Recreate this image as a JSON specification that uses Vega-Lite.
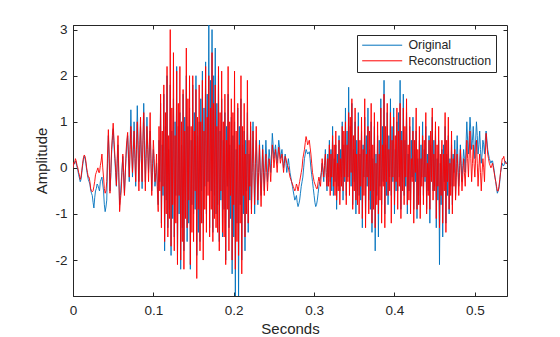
{
"$schema": "https://vega.github.io/schema/vega-lite/v6.json",
"width": 434, "height": 271,
"autosize": {"type": "none"},
"padding": {"left": 73, "top": 25, "right": 53, "bottom": 41},
"background": "white",
"config": {"view": {"stroke": "#262626", "strokeWidth": 1}, "font": "Liberation Sans"},
"data": {"values": [
{"t":0,"o":0,"r":0},{"t":0.001,"o":0.1,"r":0.12},{"t":0.002,"o":0.08,"r":0.1},{"t":0.003,"o":0.15,"r":0.2},{"t":0.004,"o":0.12,"r":0.15},
{"t":0.005,"o":0.02,"r":0.05},{"t":0.006,"o":-0.05,"r":0},{"t":0.007,"o":-0.15,"r":-0.1},{"t":0.008,"o":-0.22,"r":-0.15},{"t":0.009,"o":-0.3,"r":-0.25},
{"t":0.01,"o":-0.25,"r":-0.2},{"t":0.011,"o":-0.1,"r":-0.05},{"t":0.012,"o":0.05,"r":0.1},{"t":0.013,"o":0.18,"r":0.22},{"t":0.014,"o":0.25,"r":0.28},
{"t":0.015,"o":0.2,"r":0.25},{"t":0.016,"o":0.1,"r":0.15},{"t":0.017,"o":-0.05,"r":0},{"t":0.018,"o":-0.15,"r":-0.1},{"t":0.019,"o":-0.25,"r":-0.2},
{"t":0.02,"o":-0.3,"r":-0.2},{"t":0.021,"o":-0.35,"r":-0.3},{"t":0.022,"o":-0.48,"r":-0.45},{"t":0.023,"o":-0.55,"r":-0.5},{"t":0.024,"o":-0.6,"r":-0.52},
{"t":0.025,"o":-0.75,"r":-0.5},{"t":0.026,"o":-0.87,"r":-0.4},{"t":0.027,"o":-0.65,"r":-0.3},{"t":0.028,"o":-0.5,"r":-0.15},{"t":0.029,"o":-0.45,"r":-0.1},
{"t":0.03,"o":-0.35,"r":-0.05},{"t":0.031,"o":-0.38,"r":0},{"t":0.032,"o":-0.45,"r":-0.1},{"t":0.033,"o":-0.5,"r":-0.1},{"t":0.034,"o":-0.3,"r":0.05},
{"t":0.035,"o":-0.25,"r":0.15},{"t":0.036,"o":-0.2,"r":0.3},{"t":0.037,"o":-0.35,"r":0},{"t":0.038,"o":-0.5,"r":-0.2},{"t":0.039,"o":-0.8,"r":-0.45},
{"t":0.04,"o":-0.95,"r":-0.55},{"t":0.041,"o":-0.85,"r":-0.5},{"t":0.042,"o":-0.7,"r":-0.3},{"t":0.043,"o":0.1,"r":0.3},{"t":0.044,"o":0.7,"r":0.83},
{"t":0.045,"o":0.2,"r":0.3},{"t":0.046,"o":-0.5,"r":-0.55},{"t":0.047,"o":-0.2,"r":-0.1},{"t":0.048,"o":0.3,"r":0.4},{"t":0.049,"o":0.6,"r":0.7},
{"t":0.05,"o":0.85,"r":0.97},{"t":0.051,"o":0.5,"r":0.6},{"t":0.052,"o":0.2,"r":0.3},{"t":0.053,"o":-0.1,"r":0},{"t":0.054,"o":-0.4,"r":-0.38},
{"t":0.055,"o":0.1,"r":0.2},{"t":0.056,"o":0.5,"r":0.7},{"t":0.057,"o":-0.2,"r":-0.1},{"t":0.058,"o":-0.8,"r":-0.95},{"t":0.059,"o":-0.6,"r":-0.7},
{"t":0.06,"o":-0.3,"r":-0.5},{"t":0.061,"o":0,"r":-0.1},{"t":0.062,"o":0.25,"r":0.3},{"t":0.063,"o":-0.2,"r":-0.1},{"t":0.064,"o":-0.55,"r":-0.6},
{"t":0.065,"o":-0.1,"r":-0.2},{"t":0.066,"o":0.2,"r":0.35},{"t":0.067,"o":0.5,"r":0.6},{"t":0.068,"o":0.7,"r":0.77},{"t":0.069,"o":0.2,"r":0.3},
{"t":0.07,"o":-0.3,"r":-0.2},{"t":0.071,"o":0.5,"r":0.4},{"t":0.072,"o":1.26,"r":0.9},{"t":0.073,"o":0.6,"r":0.3},{"t":0.074,"o":-0.2,"r":-0.1},
{"t":0.075,"o":0.3,"r":0.4},{"t":0.076,"o":1.0,"r":0.8},{"t":0.077,"o":0.4,"r":0.2},{"t":0.078,"o":-0.4,"r":-0.3},{"t":0.079,"o":0.5,"r":0.4},
{"t":0.08,"o":1.35,"r":1.0},{"t":0.081,"o":0.6,"r":0.3},{"t":0.082,"o":-0.3,"r":-0.5},{"t":0.083,"o":0.2,"r":0.5},{"t":0.084,"o":0.9,"r":1.1},
{"t":0.085,"o":0.3,"r":0.2},{"t":0.086,"o":-0.45,"r":-0.3},{"t":0.087,"o":0.5,"r":0.6},{"t":0.088,"o":1.4,"r":1.2},{"t":0.089,"o":0.6,"r":0.3},
{"t":0.09,"o":-0.3,"r":-0.5},{"t":0.091,"o":0.4,"r":0.2},{"t":0.092,"o":1.1,"r":0.9},{"t":0.093,"o":0.5,"r":0.4},{"t":0.094,"o":-0.1,"r":-0.3},
{"t":0.095,"o":0.3,"r":0.5},{"t":0.096,"o":0.8,"r":1.2},{"t":0.097,"o":0.2,"r":0.1},{"t":0.098,"o":-0.5,"r":-0.6},{"t":0.099,"o":-0.1,"r":0.1},
{"t":0.1,"o":0.4,"r":0.6},{"t":0.101,"o":0,"r":0.2},{"t":0.102,"o":-0.4,"r":-0.3},{"t":0.103,"o":-0.2,"r":-0.1},{"t":0.104,"o":0.1,"r":0.3},
{"t":0.105,"o":-0.4,"r":-0.5},
{"t":0.106,"o":-0.8,"r":-0.95},{"t":0.107,"o":0.6,"r":0.9},{"t":0.108,"o":-0.3,"r":-0.5},{"t":0.109,"o":1.4,"r":1.6},{"t":0.11,"o":-1.2,"r":-1.3},
{"t":0.111,"o":0.5,"r":0.8},{"t":0.112,"o":-0.6,"r":-0.4},{"t":0.113,"o":1.6,"r":1.8},{"t":0.114,"o":-1.8,"r":-1.6},{"t":0.115,"o":0.9,"r":1.2},
{"t":0.116,"o":-0.7,"r":-1.0},{"t":0.117,"o":2.0,"r":2.2},{"t":0.118,"o":-1.3,"r":-1.5},{"t":0.119,"o":0.4,"r":0.7},{"t":0.12,"o":-0.9,"r":-1.1},
{"t":0.121,"o":1.8,"r":3.0},{"t":0.122,"o":-1.9,"r":-1.7},{"t":0.123,"o":0.8,"r":1.3},{"t":0.124,"o":-1.1,"r":-0.8},{"t":0.125,"o":1.5,"r":2.5},
{"t":0.126,"o":-1.5,"r":-1.8},{"t":0.127,"o":1.0,"r":0.7},{"t":0.128,"o":-0.6,"r":-1.2},{"t":0.129,"o":2.2,"r":2.1},{"t":0.13,"o":-2.0,"r":-2.1},
{"t":0.131,"o":0.9,"r":1.4},{"t":0.132,"o":-1.0,"r":-0.6},{"t":0.133,"o":1.2,"r":2.2},{"t":0.134,"o":-2.2,"r":-2.0},{"t":0.135,"o":0.5,"r":1.0},
{"t":0.136,"o":-1.3,"r":-1.6},{"t":0.137,"o":1.6,"r":1.7},{"t":0.138,"o":-1.8,"r":-2.2},{"t":0.139,"o":1.1,"r":0.8},{"t":0.14,"o":-0.7,"r":-1.1},
{"t":0.141,"o":2.0,"r":2.6},{"t":0.142,"o":-1.6,"r":-1.3},{"t":0.143,"o":0.9,"r":1.5},{"t":0.144,"o":-1.2,"r":-0.7},{"t":0.145,"o":1.3,"r":2.0},
{"t":0.146,"o":-2.2,"r":-2.1},{"t":0.147,"o":0.6,"r":0.9},{"t":0.148,"o":-0.8,"r":-1.4},{"t":0.149,"o":1.8,"r":2.0},{"t":0.15,"o":-1.0,"r":-1.6},
{"t":0.151,"o":1.2,"r":0.8},{"t":0.152,"o":-0.9,"r":-0.5},{"t":0.153,"o":2.0,"r":1.7},{"t":0.154,"o":-1.9,"r":-2.4},{"t":0.155,"o":0.7,"r":1.1},
{"t":0.156,"o":-1.4,"r":-0.9},{"t":0.157,"o":1.0,"r":1.8},{"t":0.158,"o":-1.6,"r":-1.8},{"t":0.159,"o":1.5,"r":1.0},{"t":0.16,"o":-0.5,"r":-1.2},
{"t":0.161,"o":2.1,"r":1.9},{"t":0.162,"o":-1.2,"r":-2.0},{"t":0.163,"o":1.3,"r":0.8},{"t":0.164,"o":-0.4,"r":-0.9},{"t":0.165,"o":2.3,"r":2.2},
{"t":0.166,"o":-1.0,"r":-1.4},{"t":0.167,"o":1.6,"r":1.1},{"t":0.168,"o":-0.3,"r":-0.6},{"t":0.169,"o":3.1,"r":2.0},{"t":0.17,"o":-1.3,"r":-1.5},
{"t":0.171,"o":1.9,"r":1.3},{"t":0.172,"o":-0.5,"r":-0.9},{"t":0.173,"o":3.0,"r":2.5},{"t":0.174,"o":-1.4,"r":-1.6},{"t":0.175,"o":2.0,"r":1.4},
{"t":0.176,"o":-0.6,"r":-1.1},{"t":0.177,"o":2.6,"r":1.8},{"t":0.178,"o":-1.0,"r":-1.3},{"t":0.179,"o":1.4,"r":0.9},{"t":0.18,"o":-0.8,"r":-1.4},
{"t":0.181,"o":2.0,"r":2.2},{"t":0.182,"o":-1.6,"r":-1.8},{"t":0.183,"o":0.8,"r":1.2},{"t":0.184,"o":-0.7,"r":-0.5},{"t":0.185,"o":1.5,"r":2.1},
{"t":0.186,"o":-1.5,"r":-1.4},{"t":0.187,"o":0.6,"r":1.0},{"t":0.188,"o":-0.9,"r":-1.5},{"t":0.189,"o":1.2,"r":1.6},{"t":0.19,"o":-2.0,"r":-2.1},
{"t":0.191,"o":0.9,"r":0.6},{"t":0.192,"o":-0.4,"r":-0.9},{"t":0.193,"o":1.6,"r":2.2},{"t":0.194,"o":-1.3,"r":-1.8},{"t":0.195,"o":0.5,"r":1.0},
{"t":0.196,"o":-1.1,"r":-0.6},{"t":0.197,"o":1.1,"r":1.5},{"t":0.198,"o":-2.3,"r":-2.0},{"t":0.199,"o":0.7,"r":1.2},{"t":0.2,"o":-1.5,"r":-0.8},
{"t":0.201,"o":1.0,"r":2.1},{"t":0.202,"o":-2.9,"r":-2.2},{"t":0.203,"o":0.4,"r":0.8},{"t":0.204,"o":-1.2,"r":-1.6},{"t":0.205,"o":1.3,"r":1.4},
{"t":0.206,"o":-2.9,"r":-1.9},{"t":0.207,"o":0.9,"r":0.5},{"t":0.208,"o":-0.8,"r":-1.2},{"t":0.209,"o":1.5,"r":2.0},{"t":0.21,"o":-2.0,"r":-2.3},
{"t":0.211,"o":0.5,"r":0.9},{"t":0.212,"o":-1.0,"r":-0.6},{"t":0.213,"o":0.8,"r":1.4},{"t":0.214,"o":-1.8,"r":-1.5},{"t":0.215,"o":0.6,"r":0.3},
{"t":0.216,"o":-0.5,"r":-1.0},{"t":0.217,"o":1.2,"r":1.9},{"t":0.218,"o":-1.4,"r":-1.2},{"t":0.219,"o":0.3,"r":0.6},{"t":0.22,"o":-0.7,"r":-0.4},
{"t":0.221,"o":0.9,"r":1.0},{"t":0.222,"o":-0.9,"r":-1.0},
{"t":0.223,"o":0.1,"r":-0.1},{"t":0.224,"o":1.0,"r":0.8},{"t":0.225,"o":0,"r":0.1},{"t":0.226,"o":-1.0,"r":-0.8},{"t":0.227,"o":-0.2,"r":0.1},
{"t":0.228,"o":0.6,"r":0.9},{"t":0.229,"o":-0.1,"r":0.1},{"t":0.23,"o":-0.8,"r":-0.7},{"t":0.231,"o":-0.1,"r":-0.1},{"t":0.232,"o":0.6,"r":0.5},
{"t":0.233,"o":0,"r":-0.2},{"t":0.234,"o":-0.6,"r":-0.84},{"t":0.235,"o":-0.1,"r":-0.2},{"t":0.236,"o":0.5,"r":0.4},{"t":0.237,"o":0,"r":-0.1},
{"t":0.238,"o":-0.5,"r":-0.6},{"t":0.239,"o":0.1,"r":-0.1},{"t":0.24,"o":0.6,"r":0.3},{"t":0.241,"o":0.2,"r":-0.1},{"t":0.242,"o":-0.3,"r":-0.5},
{"t":0.243,"o":0.1,"r":-0.1},{"t":0.244,"o":0.4,"r":0.2},{"t":0.245,"o":0.2,"r":0},{"t":0.246,"o":-0.1,"r":-0.3},{"t":0.247,"o":0.3,"r":0.1},
{"t":0.248,"o":0.75,"r":0.5},{"t":0.249,"o":0.5,"r":0.3},{"t":0.25,"o":0.2,"r":0},{"t":0.251,"o":0.35,"r":0.2},{"t":0.252,"o":0.5,"r":0.4},
{"t":0.253,"o":0.3,"r":0.15},{"t":0.254,"o":0.1,"r":-0.1},{"t":0.255,"o":0.35,"r":0.2},{"t":0.256,"o":0.6,"r":0.45},{"t":0.257,"o":0.45,"r":0.3},
{"t":0.258,"o":0.2,"r":0.1},{"t":0.259,"o":0.3,"r":0.2},{"t":0.26,"o":0.4,"r":0.3},{"t":0.261,"o":0.2,"r":0.1},{"t":0.262,"o":0,"r":-0.1},
{"t":0.263,"o":0.15,"r":0.1},{"t":0.264,"o":0.3,"r":0.25},{"t":0.265,"o":0.1,"r":0.2},{"t":0.266,"o":-0.1,"r":0.1},{"t":0.267,"o":0.05,"r":0.05},
{"t":0.268,"o":0.2,"r":0},{"t":0.269,"o":0.05,"r":-0.1},{"t":0.27,"o":-0.1,"r":-0.2},{"t":0.271,"o":-0.2,"r":-0.25},{"t":0.272,"o":-0.3,"r":-0.3},
{"t":0.273,"o":-0.4,"r":-0.35},{"t":0.274,"o":-0.5,"r":-0.4},{"t":0.275,"o":-0.6,"r":-0.45},{"t":0.276,"o":-0.7,"r":-0.5},{"t":0.277,"o":-0.65,"r":-0.45},
{"t":0.278,"o":-0.6,"r":-0.35},{"t":0.279,"o":-0.75,"r":-0.4},{"t":0.28,"o":-0.84,"r":-0.5},{"t":0.281,"o":-0.78,"r":-0.4},{"t":0.282,"o":-0.7,"r":-0.3},
{"t":0.283,"o":-0.55,"r":-0.2},{"t":0.284,"o":-0.4,"r":-0.1},{"t":0.285,"o":-0.3,"r":0},{"t":0.286,"o":-0.2,"r":0.2},{"t":0.287,"o":0,"r":0.3},
{"t":0.288,"o":0.2,"r":0.4},{"t":0.289,"o":0.3,"r":0.55},{"t":0.29,"o":0.4,"r":0.68},{"t":0.291,"o":0.35,"r":0.6},{"t":0.292,"o":0.3,"r":0.5},
{"t":0.293,"o":0.32,"r":0.55},{"t":0.294,"o":0.35,"r":0.6},{"t":0.295,"o":0.2,"r":0.45},{"t":0.296,"o":0,"r":0.3},{"t":0.297,"o":-0.15,"r":0.1},
{"t":0.298,"o":-0.3,"r":-0.1},{"t":0.299,"o":-0.45,"r":-0.2},{"t":0.3,"o":-0.6,"r":-0.3},{"t":0.301,"o":-0.75,"r":-0.35},{"t":0.302,"o":-0.84,"r":-0.4},
{"t":0.303,"o":-0.8,"r":-0.45},{"t":0.304,"o":-0.7,"r":-0.45},{"t":0.305,"o":-0.55,"r":-0.3},{"t":0.306,"o":-0.4,"r":-0.2},{"t":0.307,"o":-0.3,"r":-0.3},
{"t":0.308,"o":-0.2,"r":-0.4},{"t":0.309,"o":-0.1,"r":-0.1},{"t":0.31,"o":0.1,"r":0.2},{"t":0.311,"o":-0.1,"r":0},{"t":0.312,"o":-0.3,"r":-0.2},
{"t":0.313,"o":0.05,"r":0.05},{"t":0.314,"o":0.4,"r":0.3},{"t":0.315,"o":-0.1,"r":-0.1},
{"t":0.316,"o":-0.5,"r":-0.4},{"t":0.317,"o":0.3,"r":0.2},{"t":0.318,"o":-0.2,"r":-0.4},{"t":0.319,"o":0.6,"r":0.5},{"t":0.32,"o":-0.3,"r":-0.6},
{"t":0.321,"o":0.4,"r":0.3},{"t":0.322,"o":-0.5,"r":-0.2},{"t":0.323,"o":0.9,"r":0.7},{"t":0.324,"o":-0.6,"r":-0.4},{"t":0.325,"o":0.2,"r":0.5},
{"t":0.326,"o":-0.3,"r":-0.6},{"t":0.327,"o":0.5,"r":0.8},{"t":0.328,"o":-0.9,"r":-0.7},{"t":0.329,"o":0.3,"r":0.1},{"t":0.33,"o":-0.4,"r":-0.5},
{"t":0.331,"o":0.7,"r":0.6},{"t":0.332,"o":-0.5,"r":-0.8},{"t":0.333,"o":0.4,"r":0.2},{"t":0.334,"o":-0.2,"r":-0.4},{"t":0.335,"o":1.0,"r":0.9},
{"t":0.336,"o":-0.7,"r":-0.5},{"t":0.337,"o":0.5,"r":0.8},{"t":0.338,"o":-0.3,"r":-0.2},{"t":0.339,"o":1.3,"r":1.0},{"t":0.34,"o":-0.6,"r":-0.8},
{"t":0.341,"o":0.8,"r":0.5},{"t":0.342,"o":-0.2,"r":-0.3},{"t":0.343,"o":1.75,"r":1.2},{"t":0.344,"o":-0.3,"r":-0.6},{"t":0.345,"o":0.9,"r":1.1},
{"t":0.346,"o":-0.4,"r":-0.1},{"t":0.347,"o":1.4,"r":1.5},{"t":0.348,"o":-0.8,"r":-0.9},{"t":0.349,"o":0.4,"r":0.7},{"t":0.35,"o":-0.3,"r":-0.5},
{"t":0.351,"o":1.0,"r":1.3},{"t":0.352,"o":-1.0,"r":-0.7},{"t":0.353,"o":0.6,"r":0.3},{"t":0.354,"o":-0.5,"r":-0.8},{"t":0.355,"o":1.2,"r":0.9},
{"t":0.356,"o":-0.6,"r":-1.0},{"t":0.357,"o":0.3,"r":0.6},{"t":0.358,"o":-0.7,"r":-0.4},{"t":0.359,"o":0.8,"r":1.1},{"t":0.36,"o":-1.3,"r":-1.1},
{"t":0.361,"o":0.5,"r":0.4},{"t":0.362,"o":-0.2,"r":-0.6},{"t":0.363,"o":1.1,"r":1.5},{"t":0.364,"o":-1.0,"r":-1.3},{"t":0.365,"o":0.7,"r":0.3},
{"t":0.366,"o":-0.4,"r":-0.2},{"t":0.367,"o":1.3,"r":0.9},{"t":0.368,"o":-0.7,"r":-1.0},{"t":0.369,"o":0.4,"r":0.8},{"t":0.37,"o":-0.9,"r":-0.5},
{"t":0.371,"o":1.0,"r":1.4},{"t":0.372,"o":-1.4,"r":-1.2},{"t":0.373,"o":0.2,"r":0.5},{"t":0.374,"o":-0.5,"r":-0.9},{"t":0.375,"o":0.9,"r":1.2},
{"t":0.376,"o":-1.8,"r":-1.3},{"t":0.377,"o":0.3,"r":0.1},{"t":0.378,"o":-0.6,"r":-0.8},{"t":0.379,"o":0.7,"r":1.0},{"t":0.38,"o":-1.5,"r":-1.0},
{"t":0.381,"o":0.6,"r":0.3},{"t":0.382,"o":-0.4,"r":-0.7},{"t":0.383,"o":1.5,"r":1.3},{"t":0.384,"o":-0.8,"r":-1.2},{"t":0.385,"o":0.9,"r":0.5},
{"t":0.386,"o":-0.3,"r":-0.4},{"t":0.387,"o":1.9,"r":1.6},{"t":0.388,"o":-1.0,"r":-1.3},{"t":0.389,"o":0.5,"r":0.9},{"t":0.39,"o":-0.6,"r":-0.3},
{"t":0.391,"o":1.2,"r":1.4},{"t":0.392,"o":-0.8,"r":-0.6},{"t":0.393,"o":0.7,"r":0.4},{"t":0.394,"o":-0.2,"r":-0.5},{"t":0.395,"o":1.5,"r":1.2},
{"t":0.396,"o":-0.6,"r":-1.2},{"t":0.397,"o":0.9,"r":0.6},{"t":0.398,"o":-0.3,"r":-0.2},{"t":0.399,"o":1.3,"r":1.1},{"t":0.4,"o":-1.0,"r":-0.8},
{"t":0.401,"o":0.4,"r":0.7},{"t":0.402,"o":-0.5,"r":-0.3},{"t":0.403,"o":1.0,"r":1.3},{"t":0.404,"o":-0.5,"r":-0.9},{"t":0.405,"o":1.2,"r":0.8},
{"t":0.406,"o":-0.2,"r":-0.4},{"t":0.407,"o":1.9,"r":1.4},{"t":0.408,"o":-0.9,"r":-1.1},{"t":0.409,"o":0.8,"r":0.6},{"t":0.41,"o":-0.3,"r":-0.5},
{"t":0.411,"o":1.6,"r":1.3},{"t":0.412,"o":-0.6,"r":-0.8},{"t":0.413,"o":0.6,"r":0.9},{"t":0.414,"o":-0.4,"r":-0.2},{"t":0.415,"o":1.2,"r":1.5},
{"t":0.416,"o":-1.0,"r":-0.8},{"t":0.417,"o":0.3,"r":0.5},{"t":0.418,"o":-0.5,"r":-0.7},{"t":0.419,"o":0.9,"r":1.1},{"t":0.42,"o":-0.7,"r":-1.0},
{"t":0.421,"o":0.6,"r":0.2},{"t":0.422,"o":-0.2,"r":-0.3},{"t":0.423,"o":1.1,"r":0.8},{"t":0.424,"o":-0.9,"r":-1.2},{"t":0.425,"o":0.4,"r":0.6},
{"t":0.426,"o":-0.3,"r":-0.1},{"t":0.427,"o":0.8,"r":1.3},{"t":0.428,"o":-1.1,"r":-0.9},{"t":0.429,"o":0.2,"r":0.4},{"t":0.43,"o":-0.6,"r":-0.8},
{"t":0.431,"o":0.6,"r":0.9},{"t":0.432,"o":-0.8,"r":-1.1},{"t":0.433,"o":0.5,"r":0.2},{"t":0.434,"o":-0.2,"r":-0.4},{"t":0.435,"o":1.0,"r":0.7},
{"t":0.436,"o":-0.6,"r":-0.8},{"t":0.437,"o":0.4,"r":0.6},{"t":0.438,"o":-0.3,"r":-0.2},{"t":0.439,"o":0.9,"r":1.2},{"t":0.44,"o":-0.9,"r":-1.0},
{"t":0.441,"o":0.3,"r":0.1},{"t":0.442,"o":-0.5,"r":-0.6},{"t":0.443,"o":0.7,"r":0.6},{"t":0.444,"o":-1.2,"r":-0.9},{"t":0.445,"o":0.5,"r":0.8},
{"t":0.446,"o":-0.2,"r":-0.3},{"t":0.447,"o":1.1,"r":1.3},{"t":0.448,"o":-0.5,"r":-0.7},{"t":0.449,"o":0.6,"r":0.3},{"t":0.45,"o":-0.4,"r":-0.5},
{"t":0.451,"o":0.8,"r":1.0},{"t":0.452,"o":-1.3,"r":-1.1},{"t":0.453,"o":0.2,"r":0.5},{"t":0.454,"o":-0.7,"r":-0.4},{"t":0.455,"o":0.6,"r":0.9},
{"t":0.456,"o":-2.1,"r":-1.3},{"t":0.457,"o":0.1,"r":0.3},{"t":0.458,"o":-0.8,"r":-0.6},{"t":0.459,"o":0.4,"r":0.6},{"t":0.46,"o":-1.5,"r":-1.2},
{"t":0.461,"o":0.5,"r":0.3},{"t":0.462,"o":-0.3,"r":-0.5},{"t":0.463,"o":0.9,"r":1.2},{"t":0.464,"o":-1.2,"r":-1.4},{"t":0.465,"o":0.3,"r":0.6},
{"t":0.466,"o":-0.6,"r":-0.3},{"t":0.467,"o":0.7,"r":1.1},{"t":0.468,"o":-1.0,"r":-0.9},{"t":0.469,"o":0.2,"r":0.1},{"t":0.47,"o":-0.4,"r":-0.6},
{"t":0.471,"o":0.5,"r":0.8},{"t":0.472,"o":-0.8,"r":-1.0},{"t":0.473,"o":0.3,"r":0.2},{"t":0.474,"o":-0.1,"r":-0.4},{"t":0.475,"o":0.6,"r":0.4},
{"t":0.476,"o":-0.6,"r":-0.7},
{"t":0.477,"o":0.1,"r":-0.2},{"t":0.478,"o":0.7,"r":0.3},{"t":0.479,"o":0.1,"r":-0.1},{"t":0.48,"o":-0.4,"r":-0.6},{"t":0.481,"o":0.05,"r":-0.1},
{"t":0.482,"o":0.5,"r":0.4},{"t":0.483,"o":0.1,"r":-0.05},{"t":0.484,"o":-0.3,"r":-0.5},{"t":0.485,"o":0.05,"r":-0.15},{"t":0.486,"o":0.4,"r":0.2},
{"t":0.487,"o":0.2,"r":-0.1},{"t":0.488,"o":-0.1,"r":-0.4},{"t":0.489,"o":0.5,"r":0.1},{"t":0.49,"o":1.0,"r":0.6},{"t":0.491,"o":0.6,"r":0.2},
{"t":0.492,"o":0.3,"r":-0.2},{"t":0.493,"o":0.7,"r":0.3},{"t":0.494,"o":1.1,"r":0.8},{"t":0.495,"o":0.8,"r":0.2},{"t":0.496,"o":0.4,"r":-0.3},
{"t":0.497,"o":0.6,"r":0.1},{"t":0.498,"o":0.9,"r":0.5},{"t":0.499,"o":0.5,"r":0.1},{"t":0.5,"o":0.2,"r":-0.2},{"t":0.501,"o":0.6,"r":0.2},
{"t":0.502,"o":1.0,"r":0.6},{"t":0.503,"o":0.7,"r":0.1},{"t":0.504,"o":0.3,"r":-0.4},{"t":0.505,"o":0.5,"r":0},{"t":0.506,"o":0.8,"r":0.3},
{"t":0.507,"o":0.4,"r":-0.1},{"t":0.508,"o":0.1,"r":-0.5},{"t":0.509,"o":0.3,"r":-0.1},{"t":0.51,"o":0.6,"r":0.2},{"t":0.511,"o":0.5,"r":0},
{"t":0.512,"o":0.3,"r":-0.3},{"t":0.513,"o":0.6,"r":0.3},{"t":0.514,"o":0.8,"r":0.75},{"t":0.515,"o":0.6,"r":0.5},{"t":0.516,"o":0.4,"r":0.3},
{"t":0.517,"o":0.3,"r":0.2},{"t":0.518,"o":0.2,"r":0.1},{"t":0.519,"o":0.15,"r":0.05},{"t":0.52,"o":0.1,"r":0},{"t":0.521,"o":0.15,"r":0.05},
{"t":0.522,"o":0.15,"r":0.1},{"t":0.523,"o":0.05,"r":0},{"t":0.524,"o":-0.05,"r":-0.1},{"t":0.525,"o":-0.2,"r":-0.2},{"t":0.526,"o":-0.3,"r":-0.3},
{"t":0.527,"o":-0.45,"r":-0.4},{"t":0.528,"o":-0.55,"r":-0.5},{"t":0.529,"o":-0.5,"r":-0.5},{"t":0.53,"o":-0.45,"r":-0.4},{"t":0.531,"o":-0.3,"r":-0.25},
{"t":0.532,"o":-0.1,"r":-0.1},{"t":0.533,"o":0,"r":0.05},{"t":0.534,"o":0.1,"r":0.2},{"t":0.535,"o":0.05,"r":0.2},{"t":0.536,"o":0.05,"r":0.25},
{"t":0.537,"o":0.1,"r":0.15},{"t":0.538,"o":0.15,"r":0.1},{"t":0.539,"o":0.1,"r":0.1},{"t":0.54,"o":0.1,"r":0.1}
]},
"transform": [{"fold": ["o", "r"], "as": ["series", "v"]}],
"layer": [
 {
  "mark": {"type": "line", "strokeWidth": 0.9, "clip": true},
  "encoding": {
   "x": {"field": "t", "type": "quantitative",
     "scale": {"domain": [0, 0.54], "nice": false, "zero": false},
     "axis": {"orient": "bottom", "values": [0, 0.1, 0.2, 0.3, 0.4, 0.5], "labelExpr": "'' + datum.value", "labelFlush": false,
       "grid": false, "tickSize": -4, "tickColor": "#262626", "domainColor": "#262626",
       "labelFont": "Liberation Sans", "labelFontSize": 13.5, "labelColor": "#262626", "labelPadding": 11,
       "title": "Seconds", "titleFont": "Liberation Sans", "titleFontSize": 15, "titleFontWeight": "normal", "titleColor": "#262626", "titlePadding": 5}},
   "y": {"field": "v", "type": "quantitative",
     "scale": {"domain": [-2.78, 3.1], "nice": false, "zero": false},
     "axis": {"orient": "left", "values": [-2, -1, 0, 1, 2, 3], "labelExpr": "'' + datum.value", "labelFlush": false,
       "grid": false, "tickSize": -4, "tickColor": "#262626", "domainColor": "#262626",
       "labelFont": "Liberation Sans", "labelFontSize": 13.5, "labelColor": "#262626", "labelPadding": 10,
       "title": "Amplitude", "titleFont": "Liberation Sans", "titleFontSize": 15, "titleFontWeight": "normal", "titleColor": "#262626", "titlePadding": 5}},
   "color": {"field": "series", "type": "nominal",
     "scale": {"domain": ["o", "r"], "range": ["#0072BD", "#FF0000"]},
     "legend": {"title": null, "orient": "none", "legendX": 284, "legendY": 10,
       "labelExpr": "datum.label == 'o' ? 'Original' : 'Reconstruction'",
       "symbolType": "M-1,0H7", "symbolSize": 100, "symbolStrokeWidth": 1, "labelOffset": 35,
       "labelFont": "Liberation Sans", "labelFontSize": 12.4, "labelColor": "#262626",
       "strokeColor": "#262626", "fillColor": "white", "padding": 4, "rowPadding": 2.6}}
  }
 },
 {
  "mark": {"type": "point", "opacity": 0},
  "encoding": {
   "x": {"field": "t", "type": "quantitative",
     "axis": {"orient": "top", "values": [0, 0.1, 0.2, 0.3, 0.4, 0.5], "labels": false, "title": null, "grid": false, "domain": false, "tickSize": -4, "tickColor": "#262626"}},
   "y": {"field": "v", "type": "quantitative",
     "axis": {"orient": "right", "values": [-2, -1, 0, 1, 2, 3], "labels": false, "title": null, "grid": false, "domain": false, "tickSize": -4, "tickColor": "#262626"}}
  }
 }
],
"resolve": {"axis": {"x": "independent", "y": "independent"}}
}
